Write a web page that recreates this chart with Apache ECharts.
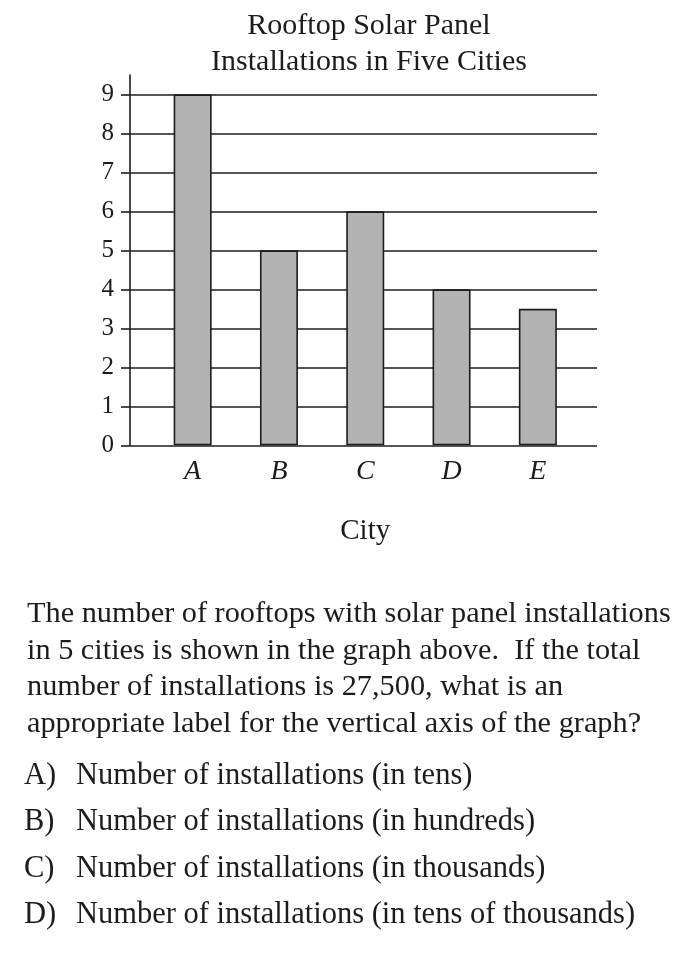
<!DOCTYPE html>
<html>
<head>
<meta charset="utf-8">
<script src="https://cdn.jsdelivr.net/npm/echarts@6/dist/echarts.min.js"></script>
<style>
  html, body { margin: 0; padding: 0; background: #fff; }
  #chart { width: 692px; height: 980px; }
</style>
</head>
<body>
<div id="chart"></div>
<script>
const cities = ['A', 'B', 'C', 'D', 'E'];
const installations = [9, 5, 6, 4, 3.5];
const yMin = 0;
const yMax = 9;
const yStep = 1;
const titleLines = ['Rooftop Solar Panel', 'Installations in Five Cities'];
const xAxisName = 'City';
const questionLines = [
  'The number of rooftops with solar panel installations',
  'in 5 cities is shown in the graph above.  If the total',
  'number of installations is 27,500, what is an',
  'appropriate label for the vertical axis of the graph?'
];
const optionLetters = ['A)', 'B)', 'C)', 'D)'];
const optionTexts = [
  'Number of installations (in tens)',
  'Number of installations (in hundreds)',
  'Number of installations (in thousands)',
  'Number of installations (in tens of thousands)'
];

const INK = '#1e1b1c';
const FONT = '"Liberation Serif", "DejaVu Serif", serif';

const chart = echarts.init(document.getElementById('chart'), null, { renderer: 'canvas' });

const graphics = [];
titleLines.forEach((t, i) => {
  graphics.push({
    type: 'text', x: 369, y: 26 + i * 36,
    style: { text: t, fill: INK, font: '30px ' + FONT, align: 'center', verticalAlign: 'middle' }
  });
});
questionLines.forEach((t, i) => {
  graphics.push({
    type: 'text', x: 27, y: 614 + i * 36.7,
    style: { text: t, fill: INK, font: '30.3px ' + FONT, align: 'left', verticalAlign: 'middle' }
  });
});
optionLetters.forEach((l, i) => {
  graphics.push({
    type: 'text', x: 24, y: 776 + i * 46.4,
    style: { text: l, fill: INK, font: '30.5px ' + FONT, align: 'left', verticalAlign: 'middle' }
  });
  graphics.push({
    type: 'text', x: 76, y: 776 + i * 46.4,
    style: { text: optionTexts[i], fill: INK, font: '30.5px ' + FONT, align: 'left', verticalAlign: 'middle' }
  });
});

const gridBottom = 980 - 445.3;
const option = {
  backgroundColor: '#ffffff',
  animation: false,
  grid: [
    { left: 130, right: 95, top: 94.3, bottom: gridBottom },
    { left: 149.5, right: 111, top: 94.3, bottom: gridBottom },
    { left: 130, right: 95, top: 75, bottom: gridBottom }
  ],
  xAxis: [
    { type: 'value', gridIndex: 0, show: false, min: 0, max: 1 },
    {
      type: 'category', gridIndex: 1, data: cities,
      axisLine: { show: false }, axisTick: { show: false },
      axisLabel: { color: INK, fontFamily: FONT, fontStyle: 'italic', fontSize: 28, margin: 12 },
      name: xAxisName, nameLocation: 'middle', nameGap: 72,
      nameTextStyle: { color: INK, fontFamily: FONT, fontSize: 29 }
    },
    { type: 'value', gridIndex: 2, show: false, min: 0, max: 1 }
  ],
  yAxis: [
    {
      type: 'value', gridIndex: 0, min: yMin, max: yMax, interval: yStep,
      axisLine: { show: false },
      axisTick: { show: true, length: 9, lineStyle: { color: INK, width: 1.6 } },
      axisLabel: { color: INK, fontFamily: FONT, fontSize: 25, margin: 16 },
      splitLine: { show: true, lineStyle: { color: INK, width: 1.6 } }
    },
    {
      type: 'value', gridIndex: 1, min: yMin, max: yMax, interval: yStep, show: false
    },
    {
      type: 'value', gridIndex: 2, min: 0, max: 1,
      axisLine: { show: true, lineStyle: { color: INK, width: 1.6 } },
      axisTick: { show: false }, axisLabel: { show: false }, splitLine: { show: false }
    }
  ],
  series: [
    {
      type: 'bar', xAxisIndex: 1, yAxisIndex: 1, data: installations,
      barWidth: 38,
      itemStyle: { color: '#b3b3b3', borderColor: INK, borderWidth: 1.6 },
      z: 5
    }
  ],
  graphic: graphics
};
chart.setOption(option);
</script>
</body>
</html>
